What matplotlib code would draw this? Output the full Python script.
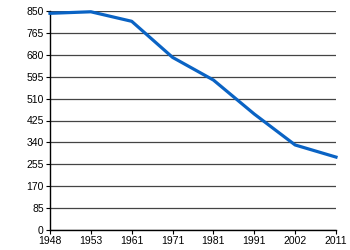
import matplotlib
matplotlib.use("Agg")
import matplotlib.pyplot as plt

years = ["1948", "1953", "1961", "1971", "1981", "1991", "2002", "2011"]
values = [841, 847, 810, 670, 582, 450, 330, 283]
yticks = [0, 85, 170, 255, 340, 425, 510, 595, 680, 765, 850]

plt.rcParams['font.family'] = ['Liberation Sans', 'DejaVu Sans']
fig = plt.figure(figsize=(3.5, 2.5), dpi=100)
ax = fig.add_axes([50/350, 20/250, 286/350, 219/250])
x = list(range(len(years)))
ax.plot(x, values, color="#0a63c4", linewidth=2.3, solid_joinstyle="round", zorder=3, clip_on=False)
ax.set_xlim(0, len(years) - 1)
ax.set_ylim(0, 850)
ax.set_yticks(yticks)
ax.set_yticklabels([str(v) for v in yticks], fontsize=7.5)
ax.set_xticks(x)
ax.set_xticklabels(years, fontsize=7.5)
ax.grid(axis="y", color="#444444", linewidth=0.9)
ax.set_axisbelow(True)
for s in ["top", "right"]:
    ax.spines[s].set_visible(False)
for s in ["left", "bottom"]:
    ax.spines[s].set_linewidth(1.0)
    ax.spines[s].set_color("black")
ax.tick_params(axis="both", length=3, width=0.8, pad=1.5)
fig.savefig("out.png", dpi=100)
